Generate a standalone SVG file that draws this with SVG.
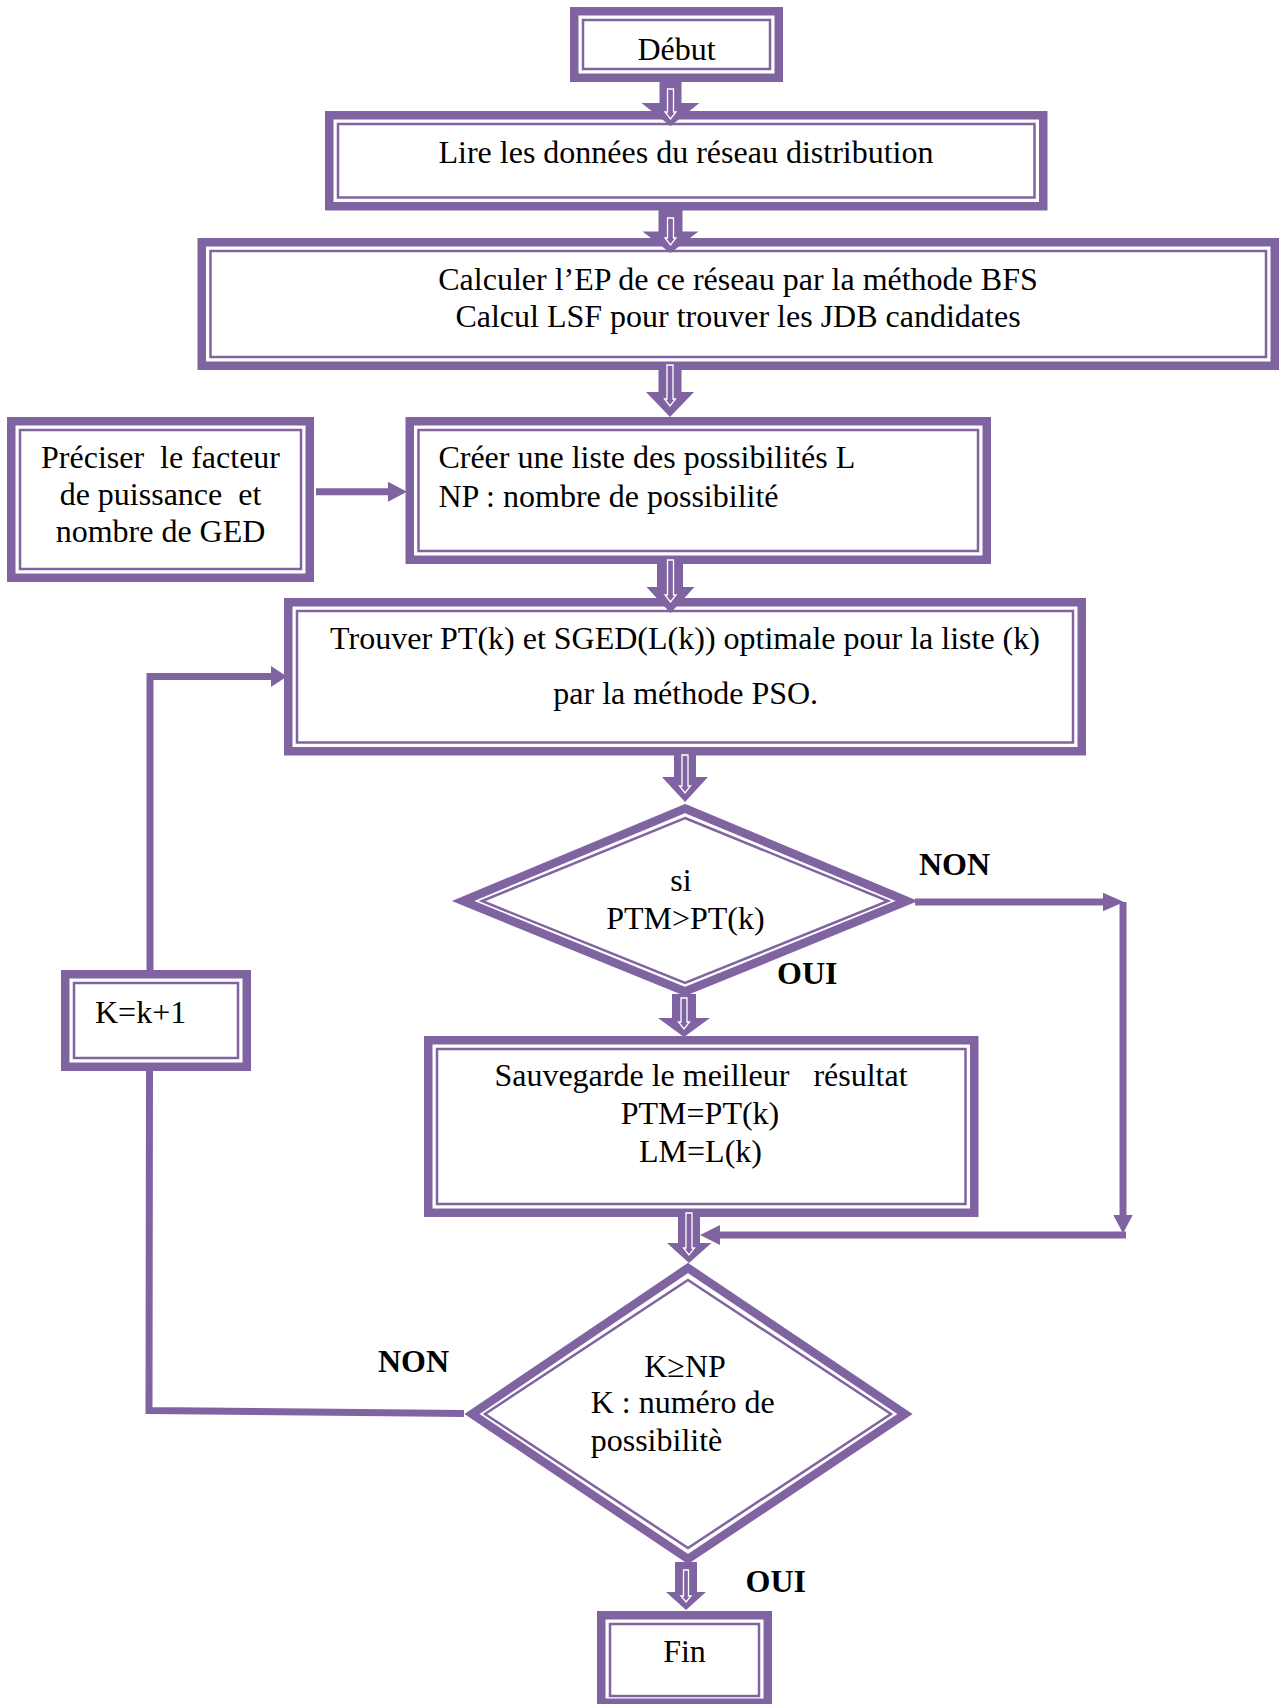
<svg xmlns="http://www.w3.org/2000/svg" width="1279" height="1704" viewBox="0 0 1279 1704">
<style>
.thick{fill:none;stroke:#8064A2;stroke-width:8.5;stroke-linejoin:miter}
.thin{fill:none;stroke:#8064A2;stroke-width:2.5;stroke-linejoin:miter}
.bg{fill:#ffffff}
.t{font-family:"Liberation Serif","Times New Roman",serif;font-size:32px;fill:#000;white-space:pre}
.b{font-family:"Liberation Serif","Times New Roman",serif;font-size:32px;font-weight:bold;fill:#000}
.ln{fill:none;stroke:#8064A2;stroke-width:7}
.hd{fill:#8064A2}
.blk{fill:#8064A2}
.inn{fill:none;stroke:#ffffff;stroke-width:1.3}
</style>
<rect width="1279" height="1704" fill="#ffffff"/>

<g id="connectors">
  <!-- Préciser -> Créer -->
  <line class="ln" x1="316" y1="491.7" x2="390" y2="491.7"/>
  <polygon class="hd" points="388,481.7 407,491.7 388,501.7"/>
  <!-- loop up to Trouver -->
  <polyline class="ln" points="150,970 150,676.5 273,676.5"/>
  <polygon class="hd" points="271,666 287,676.5 271,687"/>
  <!-- diamond2 NON to K=k+1 -->
  <polyline class="ln" points="464,1413.5 149,1410.5 149.5,1071"/>
  <!-- diamond1 NON -->
  <line class="ln" x1="915" y1="902" x2="1105" y2="902"/>
  <polygon class="hd" points="1103,892.7 1124,902 1103,911.2"/>
  <line class="ln" x1="1123" y1="902" x2="1123" y2="1217"/>
  <polygon class="hd" points="1113.3,1215 1123,1233.5 1132.7,1215"/>
  <line class="ln" x1="1126" y1="1235" x2="718" y2="1235"/>
  <polygon class="hd" points="720,1225 700,1235 720,1245"/>
</g>

<g id="node-debut">
  <rect class="thick" x="574.25" y="11.25" width="204.5" height="66.5"/>
  <rect class="thin" x="583" y="20" width="187" height="49"/>
  <text class="t" x="676.5" y="60" text-anchor="middle">Début</text>
</g>

<g id="node-lire">
  <rect class="thick" x="329.25" y="115.25" width="714" height="91"/>
  <rect class="thin" x="338" y="124" width="696.5" height="73.5"/>
  <text class="t" x="686" y="162.7" text-anchor="middle">Lire les données du réseau distribution</text>
</g>

<g id="node-calculer">
  <rect class="thick" x="201.75" y="242.25" width="1073" height="123.5"/>
  <rect class="thin" x="210.5" y="251" width="1055.5" height="106"/>
  <text class="t" x="738" y="290" text-anchor="middle">Calculer l’EP de ce réseau par la méthode BFS</text>
  <text class="t" x="738" y="326.7" text-anchor="middle">Calcul LSF pour trouver les JDB candidates</text>
</g>

<g id="node-preciser">
  <rect class="thick" x="11.25" y="421.25" width="298.5" height="156.5"/>
  <rect class="thin" x="20" y="430" width="281" height="139"/>
  <text class="t" x="160.5" y="468.3" text-anchor="middle">Préciser  le facteur</text>
  <text class="t" x="160.5" y="505" text-anchor="middle">de puissance  et</text>
  <text class="t" x="160.5" y="541.7" text-anchor="middle">nombre de GED</text>
</g>

<g id="node-creer">
  <rect class="thick" x="409.75" y="421.25" width="577" height="138.5"/>
  <rect class="thin" x="418.5" y="430" width="559.5" height="121"/>
  <text class="t" x="438.4" y="468.3">Créer une liste des possibilités L</text>
  <text class="t" x="438.4" y="506.7">NP : nombre de possibilité</text>
</g>

<g id="node-trouver">
  <rect class="thick" x="288.25" y="602.25" width="793.5" height="149"/>
  <rect class="thin" x="297" y="611" width="776" height="131.5"/>
  <text class="t" x="685" y="649.3" text-anchor="middle">Trouver PT(k) et SGED(L(k)) optimale pour la liste (k)</text>
  <text class="t" x="685.7" y="704" text-anchor="middle">par la méthode PSO.</text>
</g>

<g id="node-si">
  <polygon class="bg" points="685,802 917,901 685,998 453,901"/>
  <polygon class="thick" points="685,808.5 907,901 685,991.5 463,901"/>
  <polygon class="thin" points="685,818 888,901 685,983 482,901"/>
  <text class="t" x="681" y="890.7" text-anchor="middle">si</text>
  <text class="t" x="685.4" y="929.3" text-anchor="middle">PTM&gt;PT(k)</text>
</g>

<g id="node-k">
  <rect class="thick" x="65.25" y="974.25" width="181.5" height="92.5"/>
  <rect class="thin" x="74" y="983" width="164" height="75"/>
  <text class="t" x="95" y="1022.7">K=k+1</text>
</g>

<g id="node-sauvegarde">
  <rect class="thick" x="428.25" y="1040.25" width="546" height="172.5"/>
  <rect class="thin" x="437" y="1049" width="528.5" height="155"/>
  <text class="t" x="701" y="1086" text-anchor="middle">Sauvegarde le meilleur   résultat</text>
  <text class="t" x="700" y="1124.3" text-anchor="middle">PTM=PT(k)</text>
  <text class="t" x="700.5" y="1161.7" text-anchor="middle">LM=L(k)</text>
</g>

<g id="node-knp">
  <polygon class="bg" points="688,1261 913,1414 688,1566 464,1414"/>
  <polygon class="thick" points="688,1268 905,1414 688,1559 472,1414"/>
  <polygon class="thin" points="688,1280 891,1414 688,1548 485,1414"/>
  <text class="t" x="685" y="1376.7" text-anchor="middle">K≥NP</text>
  <text class="t" x="590.7" y="1413.3">K : numéro de</text>
  <text class="t" x="590.7" y="1450.7">possibilitè</text>
</g>

<g id="node-fin">
  <rect class="thick" x="601.25" y="1615.25" width="166.5" height="87.5"/>
  <rect class="thin" x="610" y="1624" width="149" height="72"/>
  <text class="t" x="684.5" y="1661.7" text-anchor="middle">Fin</text>
</g>

<g id="labels">
  <text class="b" x="919" y="875">NON</text>
  <text class="b" x="777" y="984">OUI</text>
  <text class="b" x="378" y="1371.5">NON</text>
  <text class="b" x="745.5" y="1592">OUI</text>
</g>

<g id="block-arrows">
  <path class="blk" d="M659.5,80 H681.5 V103 H699.5 L670.5,126 L641.5,103 H659.5 Z"/>
  <path class="inn" d="M667.5,89 V112 H665 L670.5,119 L676,112 H673.5 V89 Z"/>
  <path class="blk" d="M658.5,208 H682.5 V231.5 H698.5 L670.5,253 L642.5,231.5 H658.5 Z"/>
  <path class="inn" d="M667.5,218 V238 H665 L670.5,245 L676,238 H673.5 V218 Z"/>
  <path class="blk" d="M658.5,368 H681.5 V392 H694 L670,417 L646,392 H658.5 Z"/>
  <path class="inn" d="M667,365 V399 H664.5 L670,406 L675.5,399 H673 V365 Z"/>
  <path class="blk" d="M657,561 H683 V587 H694.5 L670.5,613 L646.5,587 H657 Z"/>
  <path class="inn" d="M667.5,560 V595 H665 L670.5,602 L676,595 H673.5 V560 Z"/>
  <path class="blk" d="M674,753 H696 V777 H708 L685,802 L662,777 H674 Z"/>
  <path class="inn" d="M682,755 V786 H679.5 L685,793 L690.5,786 H688 V755 Z"/>
  <path class="blk" d="M672,994 H696 V1018 H710 L684,1037 L658,1018 H672 Z"/>
  <path class="inn" d="M681,998 V1022 H678.5 L684,1029 L689.5,1022 H687 V998 Z"/>
  <path class="blk" d="M678,1214 H700 V1243 H711.5 L689,1263 L667,1243 H678 Z"/>
  <path class="inn" d="M686,1213 V1248 H683.5 L689,1255 L694.5,1248 H692 V1213 Z"/>
  <path class="blk" d="M675,1562 H697 V1592 H706 L686,1610 L666,1592 H675 Z"/>
  <path class="inn" d="M683.5,1570 V1596 H681 L686,1602 L691,1596 H688.5 V1570 Z"/>
</g>
</svg>
